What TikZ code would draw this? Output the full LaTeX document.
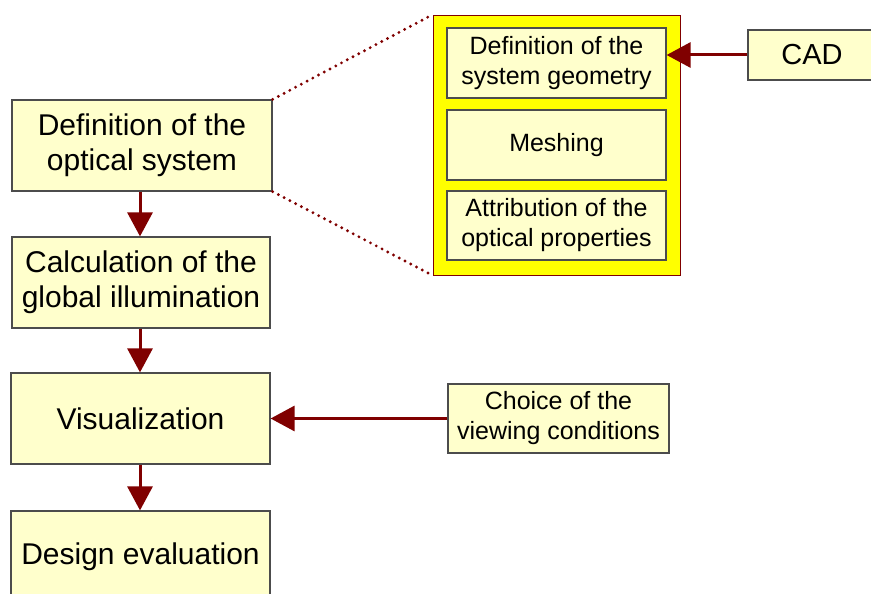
\documentclass[tikz,border=0pt]{standalone}
\usepackage{fontspec}
\setmainfont{Liberation Sans}
\usetikzlibrary{arrows.meta}
\definecolor{boxfill}{HTML}{FFFFCC}
\definecolor{darkred}{HTML}{800000}
\definecolor{contfill}{HTML}{FFFF00}
\tikzset{
  box/.style={draw=black!70, fill=boxfill, line width=1.2pt, inner sep=0pt, align=center},
  bigtxt/.style={font=\fontsize{30}{35}\selectfont},
  smalltxt/.style={font=\fontsize{25}{30}\selectfont},
  arr/.style={draw=darkred, line width=3pt, -{Triangle[length=24pt,width=25pt]}},
  dots/.style={draw=darkred, line width=3.2pt, line cap=round, dash pattern=on 0pt off 6.5pt},
  cont/.style={draw=darkred, fill=contfill, line width=0.8pt, inner sep=0pt}
}
\begin{document}
\begin{tikzpicture}[x=1pt,y=-1pt]
\useasboundingbox (0,0) rectangle (871,594);
\clip (0,0) rectangle (871,594);
\fill[white] (0,0) rectangle (871,594);
% left column
\node[box,bigtxt,minimum width=260pt,minimum height=91pt] (opt) at (142,145.5) {Definition of the\\optical system};
\node[box,bigtxt,minimum width=258pt,minimum height=91pt] (calc) at (141,282.5) {Calculation of the\\global illumination};
\node[box,bigtxt,minimum width=259pt,minimum height=91pt] (vis) at (140.5,418.5) {Visualization};
\node[box,bigtxt,minimum width=259pt,minimum height=91pt] (des) at (140.5,556.5) {Design evaluation};
% container
\node[cont,minimum width=247pt,minimum height=260pt] (cont) at (556.5,145) {};
\node[box,smalltxt,minimum width=219pt,minimum height=70pt] (geo) at (556.5,63) {Definition of the\\system geometry};
\node[box,smalltxt,minimum width=219pt,minimum height=70pt] (mesh) at (556.5,145) {Meshing};
\node[box,smalltxt,minimum width=219pt,minimum height=69pt] (attr) at (556.5,225.5) {Attribution of the\\optical properties};
% right boxes
\node[box,font=\fontsize{29}{34}\selectfont,minimum width=128pt,minimum height=50pt] (cad) at (812,55) {CAD};
\node[box,smalltxt,minimum width=221pt,minimum height=69pt] (choice) at (558.5,418.5) {Choice of the\\viewing conditions};
% connectors
\draw[arr] (opt.south -| 140,0) -- (calc.north -| 140,0);
\draw[arr] (calc.south -| 140,0) -- (vis.north -| 140,0);
\draw[arr] (vis.south -| 140,0) -- (des.north -| 140,0);
\draw[arr] (cad.west) -- (geo.east |- cad.west);
\draw[arr] (choice.west) -- (vis.east |- choice.west);
\draw[dots] (opt.north east) -- (cont.north west);
\draw[dots] (opt.south east) -- (cont.south west);
\end{tikzpicture}
\end{document}
